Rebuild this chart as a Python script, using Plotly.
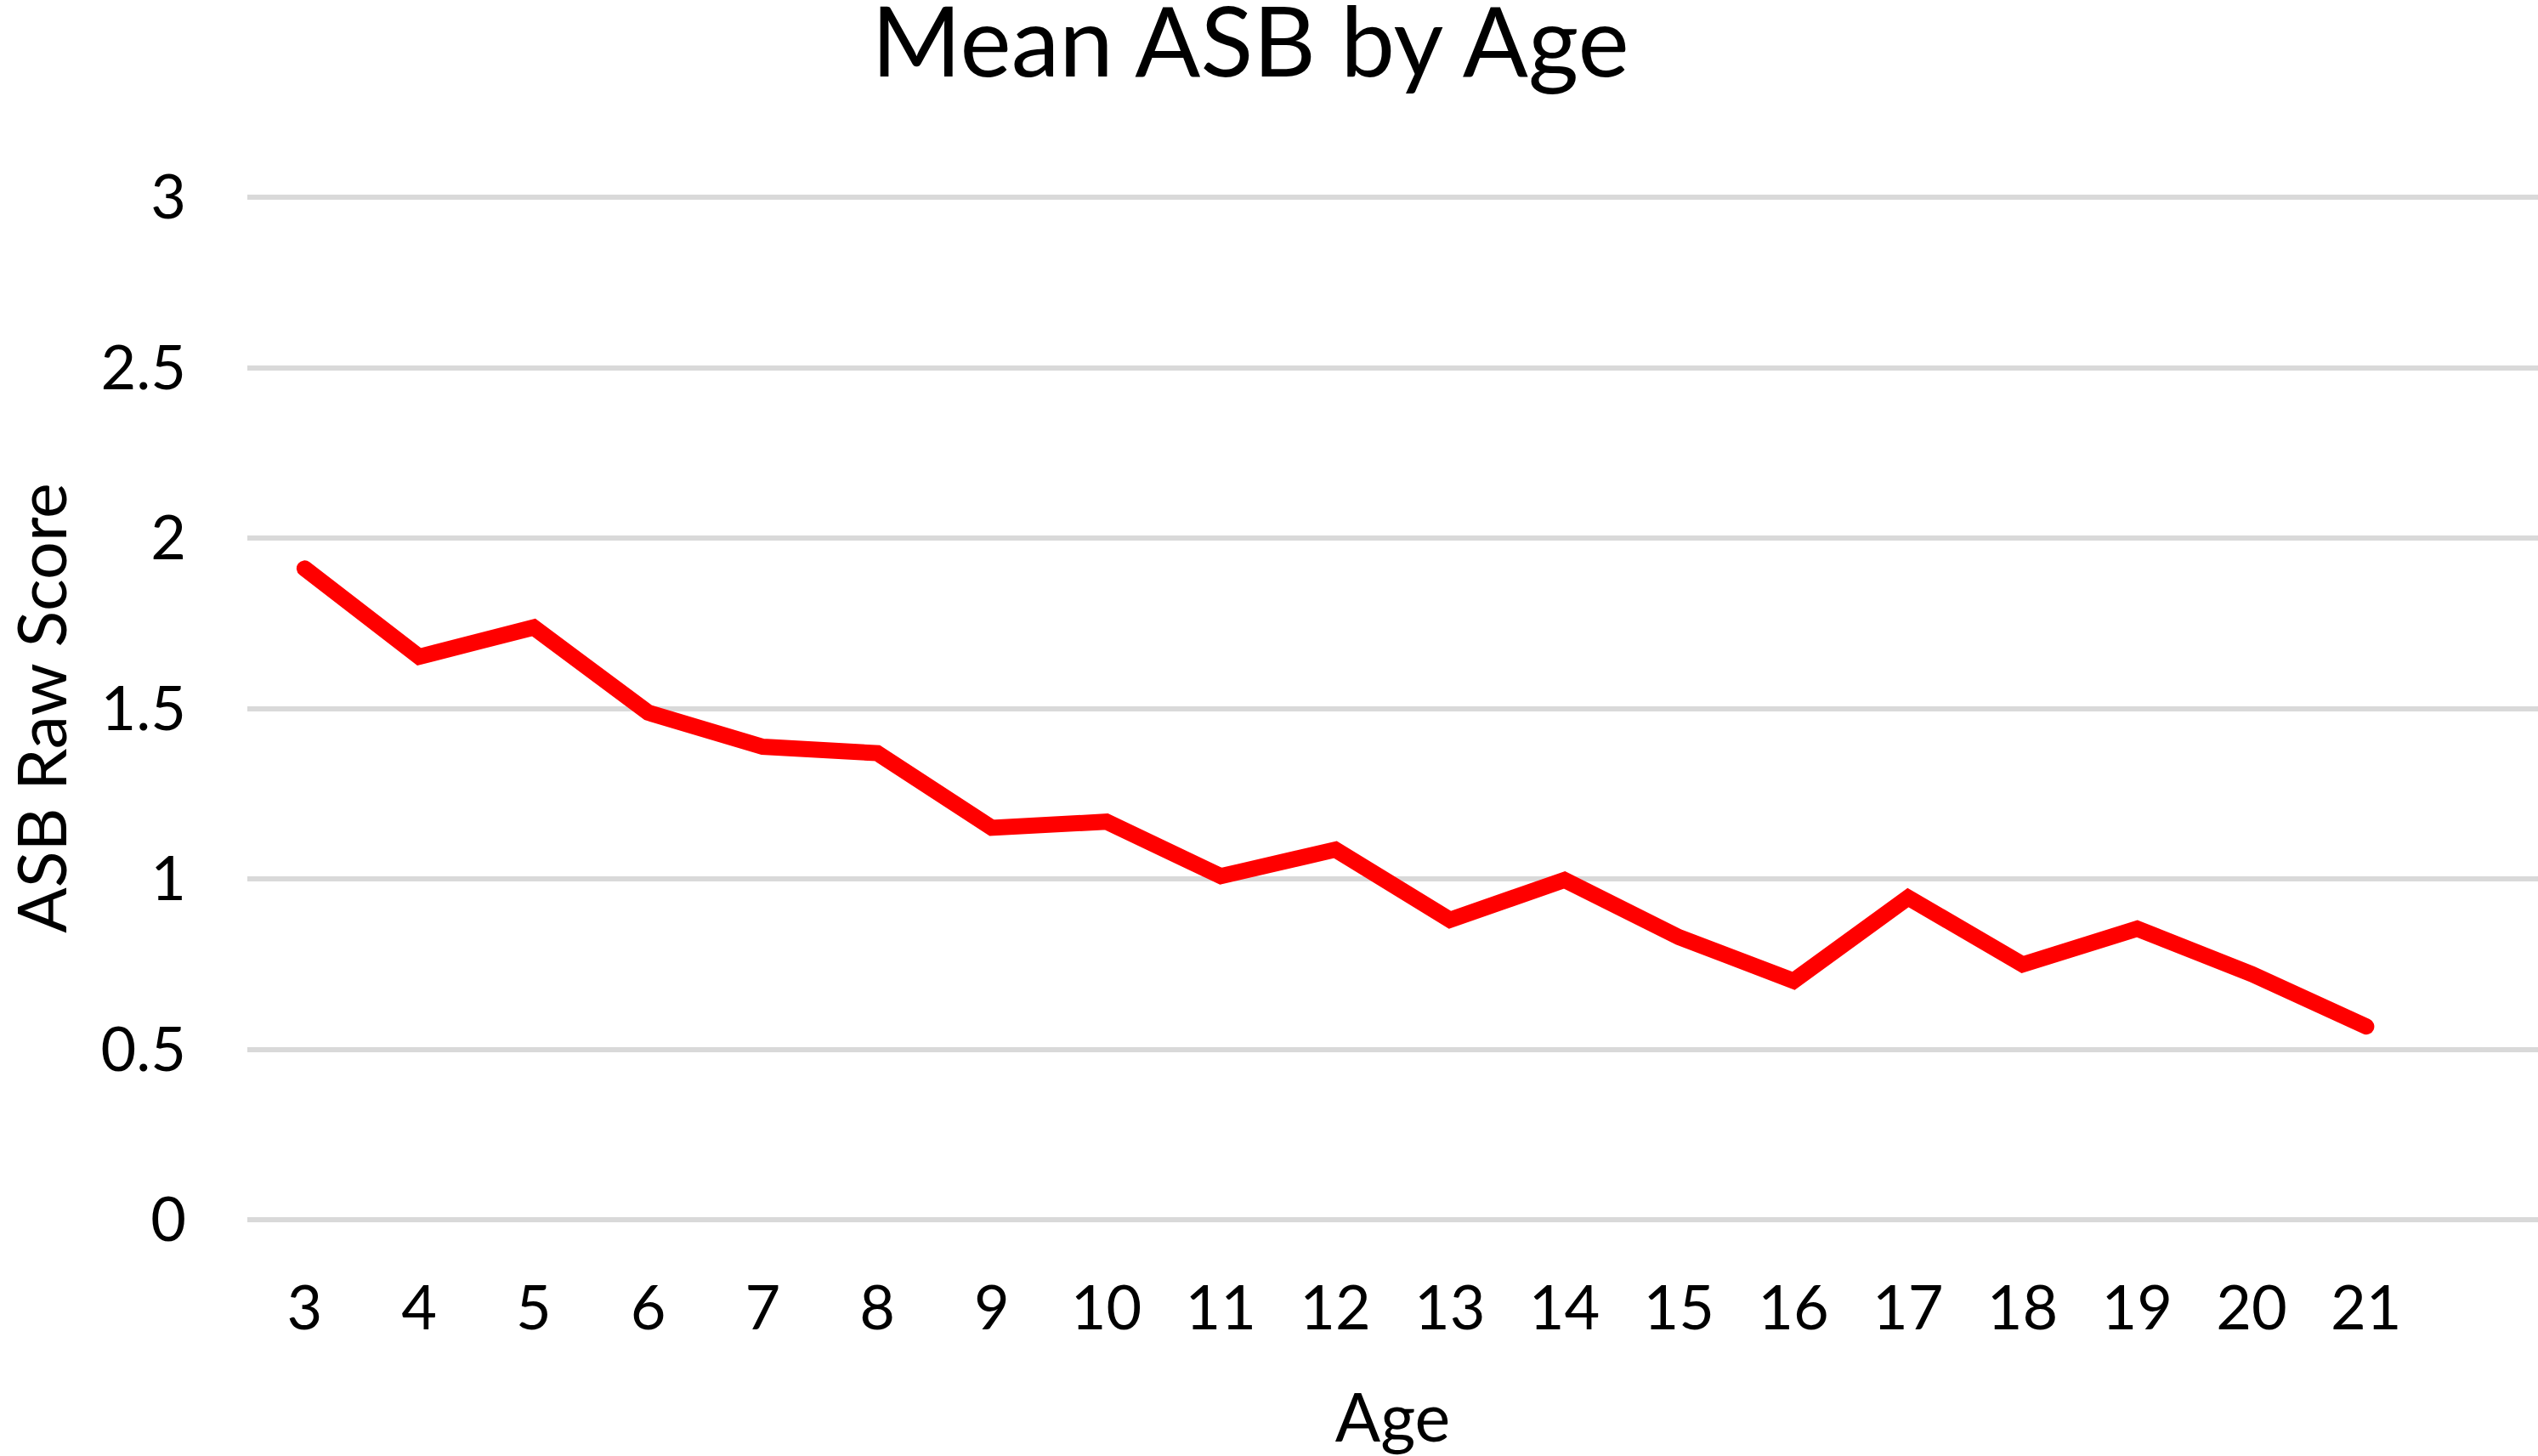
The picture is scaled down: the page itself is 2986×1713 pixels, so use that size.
import plotly.graph_objects as go

ages = [3, 4, 5, 6, 7, 8, 9, 10, 11, 12, 13, 14, 15, 16, 17, 18, 19, 20, 21]
mean_asb = [1.911, 1.652, 1.738, 1.488, 1.388, 1.369, 1.150, 1.168, 1.008, 1.086,
            0.880, 0.997, 0.829, 0.701, 0.945, 0.749, 0.854, 0.721, 0.567]
y_ticks = [0, 0.5, 1, 1.5, 2, 2.5, 3]
y_tick_text = ["0", "0.5", "1", "1.5", "2", "2.5", "3"]

FONT = "Lato"
W, H = 2986, 1713

fig = go.Figure()
fig.add_trace(go.Scatter(
    x=ages, y=mean_asb, mode="lines",
    line=dict(color="#FF0000", width=19),
    hoverinfo="skip", showlegend=False,
))

fig.update_layout(
    width=W, height=H,
    margin=dict(l=286, r=0, t=231, b=278, pad=0),
    paper_bgcolor="white", plot_bgcolor="white",
    font=dict(family=FONT, color="black"),
    title=dict(
        text="Mean ASB by Age",
        font=dict(family=FONT, size=114, color="black"),
        xref="container", x=1471 / W, xanchor="center",
        yref="container", y=1 - 50 / H, yanchor="middle",
    ),
    xaxis=dict(
        range=[2.5, 22.5],
        tickvals=ages, ticktext=[str(a) for a in ages],
        showgrid=False, zeroline=False, showline=False, ticks="",
        tickfont=dict(family=FONT, size=72, color="black"),
        ticklabelstandoff=56,
        title=dict(text="Age", font=dict(family=FONT, size=79, color="black"), standoff=63),
    ),
    yaxis=dict(
        range=[0, 3.003],
        tickvals=y_ticks, ticktext=y_tick_text,
        showgrid=True, gridcolor="#D9D9D9", gridwidth=6,
        zeroline=True, zerolinecolor="#D9D9D9", zerolinewidth=6,
        showline=False, ticks="",
        tickfont=dict(family=FONT, size=72, color="black"),
        ticklabelstandoff=71,
        title=dict(text="ASB Raw Score", font=dict(family=FONT, size=79, color="black"), standoff=63),
    ),
)

post = """
document.body.style.margin = '0';
document.querySelectorAll('.scatterlayer .js-line').forEach(function(p){
  p.style.strokeLinecap = 'round';
  p.style.strokeLinejoin = 'miter';
});
"""
fig.write_html("out.html", post_script=post, config={"displayModeBar": False})
